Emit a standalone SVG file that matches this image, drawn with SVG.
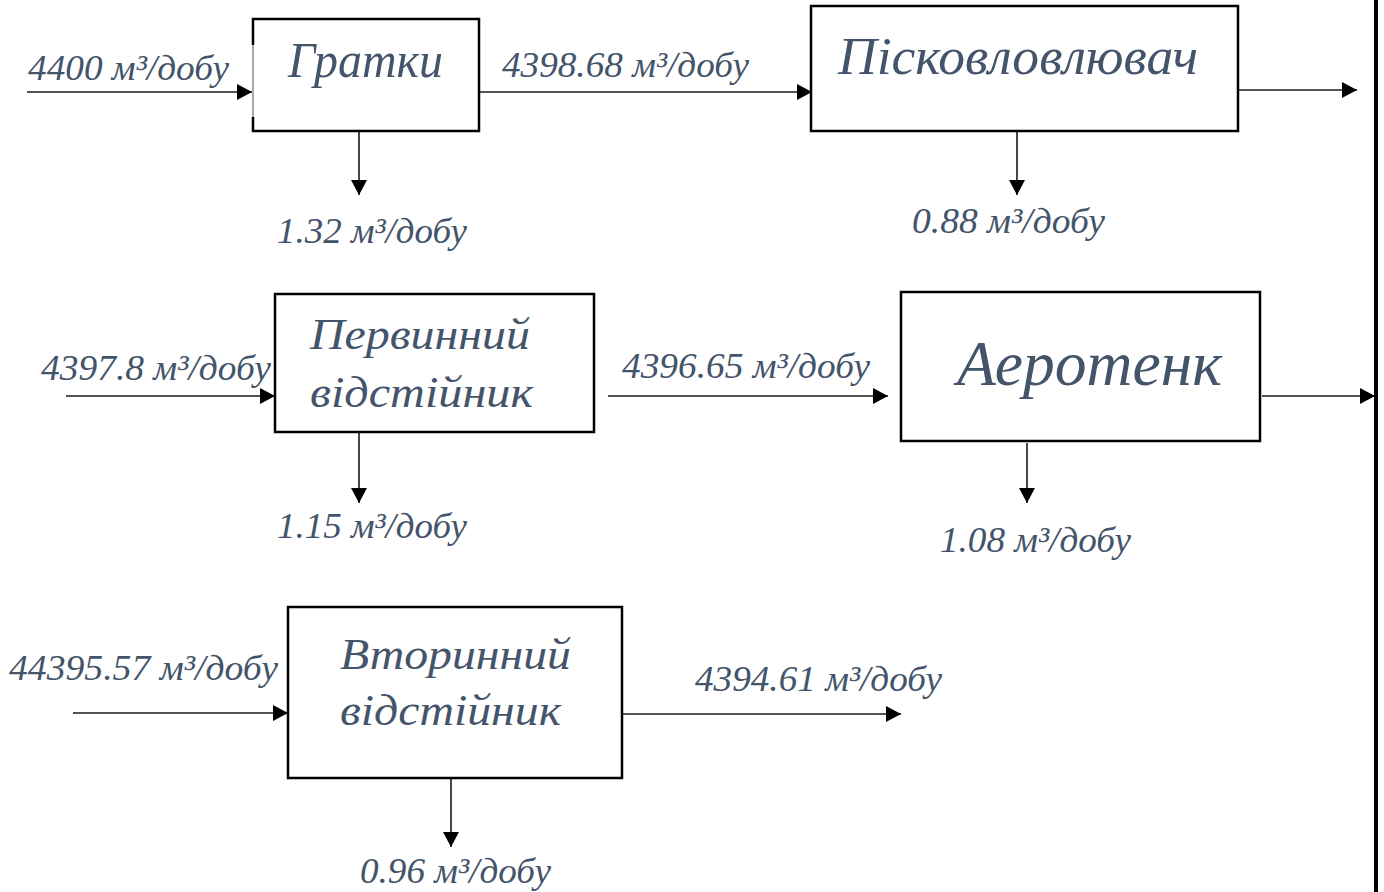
<svg xmlns="http://www.w3.org/2000/svg" width="1384" height="892" viewBox="0 0 1384 892">
<style>
.box{fill:#fff;stroke:#000;stroke-width:2.5}
.ln{stroke:#1a1a1a;stroke-width:1.6;fill:none}
.t{font-family:"Liberation Serif","Times New Roman",serif;font-style:italic;fill:#44546A}
.lbl{font-size:35px}
.ttl{font-size:45px}
</style>
<defs>
<marker id="ah" markerUnits="userSpaceOnUse" markerWidth="16" markerHeight="16" refX="15" refY="8" orient="auto">
<path d="M0,0 L15,8 L0,16 z" fill="#000"/>
</marker>
</defs>
<rect width="1384" height="892" fill="#fff"/>
<g id="connectors">
<line class="ln" x1="27" y1="92" x2="252" y2="92" marker-end="url(#ah)"/>
<line class="ln" x1="359" y1="132" x2="359" y2="195" marker-end="url(#ah)"/>
<line class="ln" x1="480" y1="92" x2="812" y2="92" marker-end="url(#ah)"/>
<line class="ln" x1="1017" y1="132" x2="1017" y2="195" marker-end="url(#ah)"/>
<line class="ln" x1="1238" y1="90" x2="1357" y2="90" marker-end="url(#ah)"/>
<line class="ln" x1="66" y1="396" x2="275" y2="396" marker-end="url(#ah)"/>
<line class="ln" x1="359" y1="433" x2="359" y2="503" marker-end="url(#ah)"/>
<line class="ln" x1="608" y1="396" x2="888" y2="396" marker-end="url(#ah)"/>
<line class="ln" x1="1027" y1="443" x2="1027" y2="503" marker-end="url(#ah)"/>
<line class="ln" x1="1262" y1="396" x2="1375" y2="396" marker-end="url(#ah)"/>
<line class="ln" x1="73" y1="713" x2="288" y2="713" marker-end="url(#ah)"/>
<line class="ln" x1="623" y1="714" x2="901" y2="714" marker-end="url(#ah)"/>
<line class="ln" x1="451" y1="778" x2="451" y2="847" marker-end="url(#ah)"/>
<line x1="1376" y1="0" x2="1376" y2="892" stroke="#000" stroke-width="4"/>
</g>
<g id="labels">
<text class="t lbl" x="28" y="80" textLength="201" lengthAdjust="spacingAndGlyphs">4400 м³/добу</text>
<text class="t lbl" x="277" y="243" textLength="190" lengthAdjust="spacingAndGlyphs">1.32 м³/добу</text>
<text class="t lbl" x="502" y="77" textLength="247" lengthAdjust="spacingAndGlyphs">4398.68 м³/добу</text>
<text class="t lbl" x="912" y="233" textLength="193" lengthAdjust="spacingAndGlyphs">0.88 м³/добу</text>
<text class="t lbl" x="41" y="380" textLength="230" lengthAdjust="spacingAndGlyphs">4397.8 м³/добу</text>
<text class="t lbl" x="277" y="538" textLength="190" lengthAdjust="spacingAndGlyphs">1.15 м³/добу</text>
<text class="t lbl" x="622" y="378" textLength="248" lengthAdjust="spacingAndGlyphs">4396.65 м³/добу</text>
<text class="t lbl" x="940" y="552" textLength="191" lengthAdjust="spacingAndGlyphs">1.08 м³/добу</text>
<text class="t lbl" x="9" y="680" textLength="269" lengthAdjust="spacingAndGlyphs">44395.57 м³/добу</text>
<text class="t lbl" x="695" y="691" textLength="247" lengthAdjust="spacingAndGlyphs">4394.61 м³/добу</text>
<text class="t lbl" x="360" y="883" textLength="191" lengthAdjust="spacingAndGlyphs">0.96 м³/добу</text>
</g>
<g id="node-gratky">
<rect x="253" y="19" width="226" height="112" fill="#fff" stroke="none"/>
<path d="M253,45 L253,19 L479,19 L479,131 L253,131 L253,117" fill="none" stroke="#000" stroke-width="2.5"/>
<line x1="253" y1="45" x2="253" y2="117" stroke="#555" stroke-width="1"/>
<text class="t" style="font-size:50px" x="288" y="77" textLength="155" lengthAdjust="spacingAndGlyphs">Гратки</text>
</g>
<g id="node-piskovlovlyuvach">
<rect class="box" x="811" y="6" width="427" height="125"/>
<text class="t" style="font-size:53px" x="838" y="74" textLength="360" lengthAdjust="spacingAndGlyphs">Пісковловлювач</text>
</g>
<g id="node-pervynnyi">
<rect class="box" x="275" y="294" width="319" height="138"/>
<text class="t ttl" x="310" y="349" textLength="220" lengthAdjust="spacingAndGlyphs">Первинний</text>
<text class="t ttl" x="310" y="407" textLength="223" lengthAdjust="spacingAndGlyphs">відстійник</text>
</g>
<g id="node-aerotenk">
<rect class="box" x="901" y="292" width="359" height="149"/>
<text class="t" style="font-size:63px" x="957" y="385" textLength="265" lengthAdjust="spacingAndGlyphs">Аеротенк</text>
</g>
<g id="node-vtorynnyi">
<rect class="box" x="288" y="607" width="334" height="171"/>
<text class="t ttl" x="340" y="669" textLength="231" lengthAdjust="spacingAndGlyphs">Вторинний</text>
<text class="t ttl" x="340" y="725" textLength="221" lengthAdjust="spacingAndGlyphs">відстійник</text>
</g>
</svg>
